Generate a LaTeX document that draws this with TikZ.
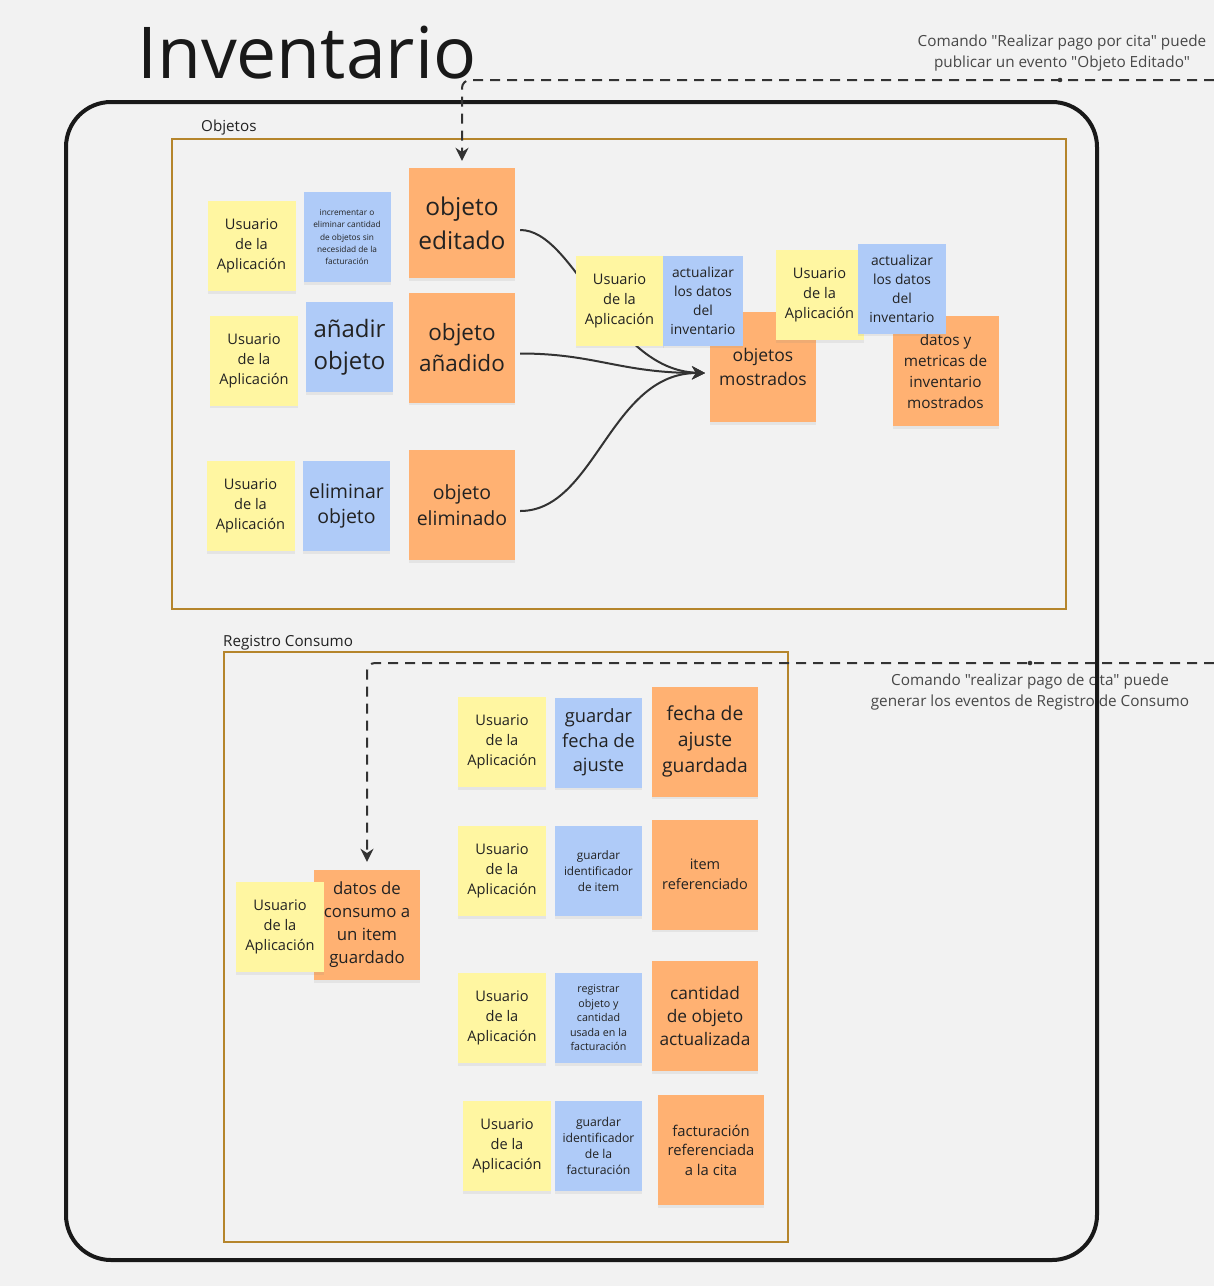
\documentclass[tikz,border=0pt]{standalone}
\usepackage{fontspec}
\setmainfont{Open Sans}
\newfontfamily\notefont{Open Sans}
\usetikzlibrary{positioning,arrows.meta,shadows}
\definecolor{bggray}{HTML}{F2F2F2}
\definecolor{stickyyellow}{HTML}{FFF6A1}
\definecolor{stickyblue}{HTML}{AFCBF8}
\definecolor{stickyorange}{HTML}{FFB172}
\definecolor{framegold}{HTML}{B5852C}
\definecolor{inkgray}{HTML}{222222}
\definecolor{linegray}{HTML}{333333}
\pgfdeclarelayer{bg}
\pgfsetlayers{bg,main}
\newcommand{\fsize}[2]{\fontsize{#1}{#2}\selectfont}
\tikzset{>={Stealth[length=13pt,width=13pt]}}
\tikzset{
  sticky/.style={rectangle, inner sep=1pt, align=center, text=inkgray,
    drop shadow={shadow xshift=0pt, shadow yshift=-2.5pt, opacity=0.12}},
  usersticky/.style={sticky, fill=stickyyellow, minimum width=88pt, minimum height=90pt, font=\fsize{14.6}{20}},
  cmdsticky/.style={sticky, fill=stickyblue, minimum width=87pt, minimum height=90pt},
  eventsticky/.style={sticky, fill=stickyorange, minimum width=106pt, minimum height=110pt},
  boundedframe/.style={draw=framegold, line width=2pt},
  framelabel/.style={anchor=base west, inner sep=0, font=\fsize{15.2}{18}, text=inkgray},
  cmdnote/.style={align=center, inner sep=0, font=\notefont\fsize{15.3}{21}, text=linegray!90},
  flow/.style={->, draw=linegray, line width=2pt},
  cmdline/.style={->, draw=linegray, line width=2pt, dash pattern=on 10pt off 7pt, rounded corners=8pt}
}
\newcommand{\drawuser}{\node[usersticky]}
\newcommand{\drawcmd}{\node[cmdsticky]}
\newcommand{\drawevent}{\node[eventsticky]}
\newcommand{\usertext}{Usuario\\de la\\Aplicación}

\begin{document}
\begin{tikzpicture}[x=1pt,y=-1pt]
	\begin{pgfonlayer}{bg}
	\fill[bggray] (0,0) rectangle (1214,1286);
	\end{pgfonlayer}
	\useasboundingbox (0,0) rectangle (1214,1286);

	% title and command notes
	\node[anchor=base west, inner sep=0, font=\fsize{71.5}{76}, text=black!90] (title) at (137,78) {Inventario};
	\node[cmdnote] (note1) at (1062,53) {Comando "Realizar pago por cita" puede\\publicar un evento "Objeto Editado"};
	\node[cmdnote] (note2) at (1030,692.5) {Comando "realizar pago de cita" puede\\generar los eventos de Registro de Consumo};

	% frames
	\draw[line width=4pt, draw=black!90, rounded corners=45pt] (66,102) rectangle (1097,1260);
	\draw[boundedframe] (172,139) rectangle (1066,609);
	\node[framelabel] (objlabel) at (201,131) {Objetos};
	\draw[boundedframe] (224,652) rectangle (788,1242);
	\node[framelabel] (reglabel) at (223,646) {Registro Consumo};

	% Objetos
	\drawuser (u1) at (251.5,246) {\usertext};
	\drawcmd [font=\fsize{8.3}{12.2}] (c1) at (347,237) {incrementar o\\eliminar cantidad\\de objetos sin\\necesidad de la\\facturación};
	\drawevent [font=\fsize{24.5}{34}] (e1) at (462,223) {objeto\\editado};

	\drawuser (u2) at (254,360.5) {\usertext};
	\drawcmd [font=\fsize{24}{32}] (c2) at (349.5,347) {añadir\\objeto};
	\drawevent [font=\fsize{22.5}{31}] (e2) at (462,347.5) {objeto\\añadido};

	\drawuser (u3) at (250.5,506) {\usertext};
	\drawcmd [font=\fsize{19.5}{25}] (c3) at (346.5,506) {eliminar\\objeto};
	\drawevent [font=\fsize{19.5}{26}] (e3) at (462,505) {objeto\\eliminado};

	\drawevent [font=\fsize{17.5}{24}] (e4) at (763,367) {objetos\\mostrados};
	\drawuser (u4) at (619.5,300.5) {\usertext};
	\drawcmd [minimum width=80pt, font=\fsize{13.8}{19}] (c4) at (703,300.5) {actualizar\\los datos\\del\\inventario};

	\drawevent [font=\fsize{15.3}{21}] (e5) at (945.5,371) {datos y\\metricas de\\inventario\\mostrados};
	\drawuser (u5) at (819.5,295) {\usertext};
	\drawcmd [minimum width=88pt, font=\fsize{13.8}{19}] (c5) at (902,288.5) {actualizar\\los datos\\del\\inventario};

	% Registro Consumo
	\drawuser (u6) at (502,742) {\usertext};
	\drawcmd [font=\fsize{18.3}{24.5}] (c6) at (598.5,742.5) {guardar\\fecha de\\ajuste};
	\drawevent [font=\fsize{19.3}{26}] (e6) at (705,741.5) {fecha de\\ajuste\\guardada};

	\drawuser (u7) at (502,871) {\usertext};
	\drawcmd [font=\fsize{11.7}{16}] (c7) at (598.5,871) {guardar\\identificador\\de item};
	\drawevent [font=\fsize{14.5}{20}] (e7) at (705,874.5) {item\\referenciado};

	\drawuser (u8) at (502,1018) {\usertext};
	\drawcmd [font=\fsize{10.7}{14.5}] (c8) at (598.5,1018) {registrar\\objeto y\\cantidad\\usada en la\\facturación};
	\drawevent [font=\fsize{17.3}{23}] (e8) at (705,1016) {cantidad\\de objeto\\actualizada};

	\drawuser (u9) at (507,1146) {\usertext};
	\drawcmd [font=\fsize{12.2}{16}] (c9) at (598.5,1146) {guardar\\identificador\\de la\\facturación};
	\drawevent [font=\fsize{14.8}{19.5}] (e9) at (711,1150) {facturación\\referenciada\\a la cita};

	\drawevent [font=\fsize{16.8}{23}] (e10) at (367,925) {datos de\\consumo a\\un item\\guardado};
	\drawuser (u10) at (280,927) {\usertext};

	% flows into objetos mostrados
	\coordinate (join) at (705,373);
	\begin{pgfonlayer}{bg}
	\draw[flow, shorten <=5pt] ([yshift=-7pt]e1.east) .. controls +(60,0) and +(-95,-3) .. (join);
	\draw[flow, shorten <=5pt] ([yshift=-6pt]e2.east) .. controls +(80,0) and +(-85,0) .. (join);
	\draw[flow, shorten <=5pt] ([yshift=-6pt]e3.east) .. controls +(80,0) and +(-95,0) .. (join);
	\end{pgfonlayer}

	% commands from outside
	\coordinate (src1) at (1214,80);
	\coordinate (mark1) at (1060,80);
	\draw[cmdline, shorten >=7pt] (src1) -| (e1.north);
	\fill[linegray] (mark1) circle (2.3pt);
	\coordinate (src2) at (1214,663);
	\coordinate (mark2) at (1030,663);
	\draw[cmdline, shorten >=8pt] (src2) -| (e10.north);
	\fill[linegray] (mark2) circle (2.3pt);
\end{tikzpicture}
\end{document}
